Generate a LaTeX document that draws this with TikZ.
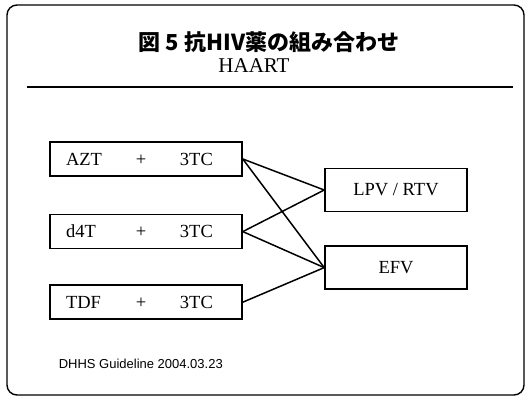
\documentclass[tikz,border=0pt]{standalone}
\usepackage{fontspec}
\setmainfont{Liberation Serif}
\setsansfont{Liberation Sans}
\newfontfamily\jpfont{Noto Sans CJK JP}
\usepackage{tikz}
\usetikzlibrary{positioning}

\newcommand{\pair}[2]{\makebox[70pt][l]{#1}\makebox[44pt][l]{+}#2}

\begin{document}
\begin{tikzpicture}[
	x=1pt,
	y=-1pt,
	thick,
	line width=1.5pt,
	node distance=35pt,
	drugbox/.style={draw,rectangle,line width=1.6pt,font=\fontsize{18.5}{20}\selectfont,
		text width=160pt,inner xsep=16pt,inner ysep=0pt,minimum height=34pt,align=left},
	regbox/.style={draw,rectangle,line width=1.6pt,font=\fontsize{18.5}{20}\selectfont,
		minimum width=142pt,minimum height=43pt,inner sep=0pt}
]
\useasboundingbox (0,0) rectangle (526,398);

\draw[line width=1.4pt,rounded corners=10pt] (7,5) rectangle (524,395);

\node (title) at (269,42) {\jpfont\bfseries\fontsize{22}{24}\selectfont 図 5 抗HIV薬の組み合わせ};
\node (haart) at (254,66) {\fontsize{21}{24}\selectfont HAART};
\coordinate (rulel) at (27,87);
\coordinate (ruler) at (513,87);
\draw[line width=2pt] (rulel) -- (ruler);

\node[drugbox] (azt) at (146,159) {\pair{AZT}{3TC}};
\node[drugbox] (d4t) [below=37pt of azt] {\pair{d4T}{3TC}};
\node[drugbox] (tdf) [below=35pt of d4t] {\pair{TDF}{3TC}};

\node[regbox] (lpv) at (396,190) {LPV / RTV};
\node[regbox] (efv) [below=33pt of lpv] {EFV};

\path	(azt.east) edge (lpv.west)
			edge (efv.west)
		(d4t.east) edge (lpv.west)
			edge (efv.west)
		(tdf.east) edge (efv.west);

\node[anchor=base west,inner sep=0pt,font=\sffamily\fontsize{13}{15}\selectfont] (src) at (58,368) {DHHS Guideline 2004.03.23};
\end{tikzpicture}
\end{document}
